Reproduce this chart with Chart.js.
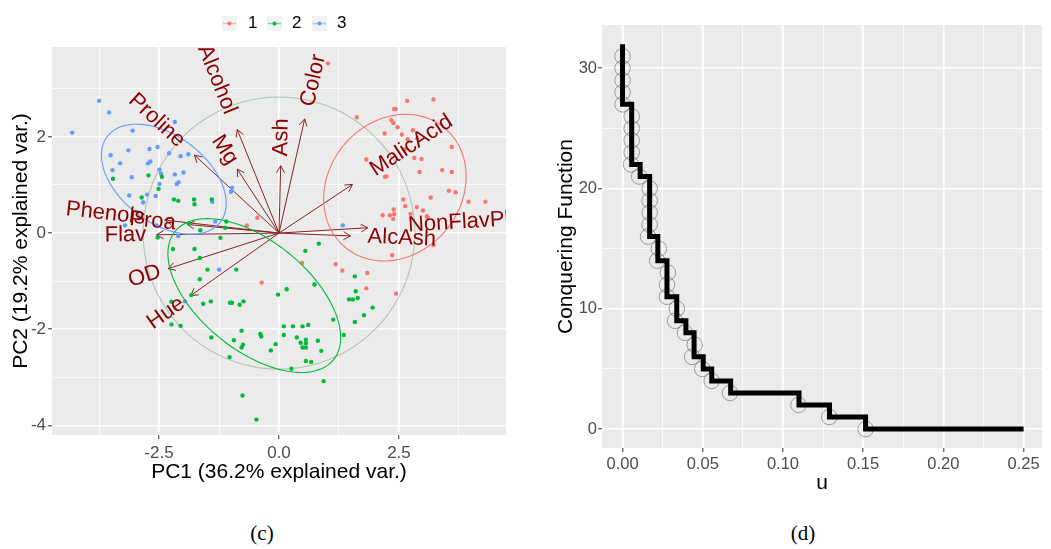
<!DOCTYPE html>
<html><head><meta charset="utf-8">
<script src="https://cdn.jsdelivr.net/npm/chart.js@4.4.0/dist/chart.umd.min.js"></script>
<style>
html,body{margin:0;padding:0;background:#fff;width:1051px;height:549px;overflow:hidden;}
#left{position:absolute;left:0;top:0;width:520px;height:500px;}
#right{position:absolute;left:540px;top:0;width:511px;height:500px;}
.cap{position:absolute;top:521px;font-family:"Liberation Serif","DejaVu Serif",serif;font-size:21px;color:#000;transform:translateX(-50%);}
</style></head><body>
<div id="left"><canvas id="c1" width="520" height="500"></canvas></div>
<div id="right"><canvas id="c2" width="511" height="500"></canvas></div>
<div class="cap" style="left:262px">(c)</div>
<div class="cap" style="left:803px">(d)</div>
<script>
// ---------- Panel (c): PCA biplot data ----------
const groupNames = ['1', '2', '3'];
const grp1X = [3.22,2.67,2.40,2.43,1.62,2.34,2.38,2.47,2.20,2.56,2.79,2.68,2.88,3.60,1.82,2.82,2.97,2.62,3.40,3.60,2.93,2.21,2.24,3.54,3.68,3.16,3.95,4.30,2.59,2.63,2.87,3.00,2.74,2.39,2.40,2.38,2.16,2.31,3.08,3.10,3.22,2.36,0.48,1.18,1.32,1.84,2.44,1.82,-0.45,-0.67,-0.36,1.02];
const grp1Y = [2.78,2.75,2.58,2.58,2.41,2.35,2.29,2.20,2.07,2.05,2.14,1.95,1.97,1.79,1.53,1.56,1.54,1.74,1.31,1.27,1.27,1.17,1.18,0.88,0.85,0.74,0.65,0.65,0.70,0.56,0.54,0.47,0.40,0.49,0.39,0.29,0.37,0.37,0.35,0.32,-0.25,-0.46,-0.62,-0.65,-0.78,-0.83,-1.26,-1.15,0.32,0.16,-1.03,3.53];
const grp2X = [-3.46,-2.72,-2.44,-2.51,-2.86,-2.19,-2.10,-1.77,-1.76,-1.40,-1.88,-1.10,-1.12,-1.64,-2.53,-1.22,-2.21,-1.76,-1.65,
  0.83,0.55,-1.49,-0.89,-1.65,-2.24,-1.83,-1.58,-1.42,-1.02,-0.98,-0.82,-0.74,-2.24,-2.05,-1.41,-0.78,-0.94,-0.75,-0.78,-1.03,-0.39,-0.37,-0.17,-0.07,-0.02,0.16,0.10,0.29,0.49,0.61,0.10,0.37,0.45,0.56,0.56,0.49,0.56,0.81,0.88,0.56,0.67,0.26,0.93,-0.76,-0.47,0.74,1.13,1.35,1.58,1.60,1.46,1.54,1.64,1.95,1.77,1.58];
const grp2Y = [1.13,1.20,1.17,0.92,0.74,0.70,0.67,0.70,0.60,0.70,0.20,0.24,0.11,0.06,-0.09,-0.10,-0.33,-0.33,-0.52,
  -0.22,-0.37,-0.76,-0.76,-0.96,-1.43,-1.29,-1.47,-1.42,-1.45,-1.45,-1.49,-1.42,-1.90,-1.93,-2.17,-2.03,-2.23,-2.32,-2.38,-2.58,-2.10,-2.15,-2.44,-2.31,-1.28,-1.17,-1.94,-1.94,-1.94,-1.91,-2.12,-2.17,-2.28,-2.22,-2.29,-2.38,-2.38,-2.24,-2.45,-2.66,-2.68,-2.82,-3.08,-3.38,-3.88,-1.07,-1.80,-2.12,-0.90,-1.21,-1.38,-1.38,-1.35,-1.55,-1.71,-1.85];
const grp3X = [-3.75,-3.54,-4.31,-2.17,-3.05,-3.51,-3.14,-2.70,-2.53,-3.31,-2.73,-2.68,-2.29,-2.05,-1.89,-3.47,-3.07,-2.49,-2.46,-2.17,-1.99,-2.49,-2.13,-2.09,-0.98,-1.00,-3.12,-2.75,-2.57,-2.83,-1.39,-3.21,-2.55,-1.33,-2.10,-1.25,-1.96,1.33];
const grp3Y = [2.75,2.51,2.09,2.31,2.13,1.62,1.72,1.75,1.79,1.45,1.45,1.49,1.66,1.60,1.64,1.31,1.16,1.32,1.24,1.22,1.26,1.02,1.02,1.06,0.94,0.86,0.78,0.80,0.77,0.64,0.65,0.16,0.16,0.24,-0.06,-0.76,-1.42,0.16];

// variable loadings (arrow tips)
const varNames = ['Alcohol','MalicAcid','Ash','AlcAsh','Mg','Phenols','Flav','NonFlavPhenols','Proa','Color','Hue','OD','Proline'];
const varX = [-0.87, 1.53, 0.035, 1.49, -0.87, -2.38, -2.55, 1.85, -1.91, 0.535, -1.84, -2.31, -1.76];
const varY = [2.15, 1.01, 1.40, -0.06, 1.33, 0.27, -0.035, 0.11, 0.18, 2.375, -1.30, -0.74, 1.62];

// concentration ellipses: centre, x/y half extents, correlation
const ellCX = [2.415, -0.515, -2.40];
const ellCY = [0.945, -1.30, 1.12];
const ellSX = [1.485, 1.80, 1.30];
const ellSY = [1.525, 1.60, 1.145];
const ellR  = [0.152, -0.545, -0.437];
const circleRadius = 2.83;

const pcaXMajor = [-2.5, 0, 2.5];
const pcaXLabels = ['-2.5', '0.0', '2.5'];
const pcaXMinor = [-3.75, -1.25, 1.25, 3.75];
const pcaYMajor = [-4, -2, 0, 2];
const pcaYLabels = ['-4', '-2', '0', '2'];
const pcaYMinor = [-3, -1, 1, 3];

// ---------- Panel (d): conquering function ----------
const stepU = [0, 0, 0.0057, 0.0110, 0.0169, 0.0220, 0.0277, 0.0338, 0.0395, 0.0446, 0.0503, 0.0556, 0.0674, 0.1100, 0.1290, 0.1515, 0.25];
const stepV = [32, 27, 22, 21, 16, 14, 11, 9, 8, 6, 5, 4, 3, 2, 1, 0, 0];
const ptU = [0,0,0,0,0, 0.0057,0.0057,0.0057,0.0057,0.0053, 0.0104, 0.0169,0.0169,0.0169,0.0169,0.0159, 0.0226,0.0216, 0.0283,0.0277,0.0277, 0.0338,0.0328, 0.0389, 0.0450,0.0434, 0.0497, 0.0556, 0.0670, 0.1097, 0.1289, 0.1515];
const ptV = [31,30,29,28,27, 26,25,24,23,22, 21, 20,19,18,17,16, 15,14, 13,12,11, 10,9, 8, 7,6, 5, 4, 3, 2, 1, 0];
const cfXMajor = [0, 0.05, 0.10, 0.15, 0.20, 0.25];
const cfXLabels = ['0.00', '0.05', '0.10', '0.15', '0.20', '0.25'];
const cfXMinor = [0.025, 0.075, 0.125, 0.175, 0.225];
const cfYMajor = [0, 10, 20, 30];
const cfYLabels = ['0', '10', '20', '30'];
const cfYMinor = [5, 15, 25];

// ---------- styling ----------
const FONT = '"Liberation Sans", Arial, Helvetica, sans-serif';
const groupColors = ['#F8766D', '#00BA38', '#619CFF'];
const groupPale = ['rgba(248,118,109,0.45)', 'rgba(0,186,56,0.45)', 'rgba(97,156,255,0.45)'];

function isIn(v, arr) { return arr.some(m => Math.abs(m - v) < 1e-9); }
function labelFor(v, major, labels) {
  const i = major.findIndex(m => Math.abs(m - v) < 1e-9);
  return i >= 0 ? labels[i] : '';
}
function makeAxis(opts) {
  const all = opts.major.concat(opts.minor).sort((a, b) => a - b);
  return {
    type: 'linear', min: opts.min, max: opts.max,
    afterBuildTicks: ax => { ax.ticks = all.map(v => ({ value: v })); },
    afterFit: ax => { if (opts.horizontal) ax.height = opts.size; else ax.width = opts.size; },
    ticks: {
      autoSkip: false, maxRotation: 0, minRotation: 0, padding: opts.pad,
      color: '#4D4D4D', font: { family: FONT, size: opts.tickSize },
      callback: v => labelFor(v, opts.major, opts.labels)
    },
    grid: {
      color: '#FFFFFF',
      lineWidth: c => (c.tick && isIn(c.tick.value, opts.major)) ? 1.6 : 0.8,
      tickColor: c => (c.tick && isIn(c.tick.value, opts.major)) ? '#333333' : 'rgba(0,0,0,0)',
      tickLength: 4, tickWidth: 1, drawTicks: true
    },
    border: { display: false },
    title: { display: true, text: opts.title, color: '#000', font: { family: FONT, size: 21 }, padding: opts.titlePad }
  };
}

const panelBg = {
  id: 'panelBg',
  beforeDraw(chart) {
    const { ctx, chartArea: a } = chart;
    ctx.save(); ctx.fillStyle = '#EBEBEB';
    ctx.fillRect(a.left, a.top, a.right - a.left, a.bottom - a.top);
    ctx.restore();
  }
};

function drawEllipse(ctx, xs, ys, cx, cy, sx, sy, r) {
  const k = Math.sqrt(1 - r * r);
  ctx.beginPath();
  for (let i = 0; i <= 120; i++) {
    const t = i / 120 * 2 * Math.PI;
    const px = xs.getPixelForValue(cx + sx * Math.cos(t));
    const py = ys.getPixelForValue(cy + sy * (r * Math.cos(t) + k * Math.sin(t)));
    if (i === 0) ctx.moveTo(px, py); else ctx.lineTo(px, py);
  }
  ctx.stroke();
}
function clipArea(ctx, a) { ctx.beginPath(); ctx.rect(a.left, a.top, a.right - a.left, a.bottom - a.top); ctx.clip(); }

const biplotLayers = {
  id: 'biplotLayers',
  beforeDatasetsDraw(chart) {
    const { ctx, chartArea: a, scales: { x, y } } = chart;
    ctx.save(); clipArea(ctx, a);
    // correlation circle
    ctx.strokeStyle = 'rgba(70,130,70,0.35)'; ctx.lineWidth = 1.1;
    drawEllipse(ctx, x, y, 0, 0, circleRadius, circleRadius, 0);
    // arrows
    ctx.strokeStyle = '#832424'; ctx.lineWidth = 1;
    const x0 = x.getPixelForValue(0), y0 = y.getPixelForValue(0);
    varNames.forEach((n, i) => {
      const x1 = x.getPixelForValue(varX[i]), y1 = y.getPixelForValue(varY[i]);
      ctx.beginPath(); ctx.moveTo(x0, y0); ctx.lineTo(x1, y1); ctx.stroke();
      const ang = Math.atan2(y1 - y0, x1 - x0), L = 8, h = Math.PI / 6;
      ctx.beginPath();
      ctx.moveTo(x1 - L * Math.cos(ang - h), y1 - L * Math.sin(ang - h));
      ctx.lineTo(x1, y1);
      ctx.lineTo(x1 - L * Math.cos(ang + h), y1 - L * Math.sin(ang + h));
      ctx.stroke();
    });
    ctx.restore();
  },
  afterDatasetsDraw(chart) {
    const { ctx, chartArea: a, scales: { x, y } } = chart;
    ctx.save(); clipArea(ctx, a);
    ctx.lineWidth = 1.1;
    for (let g = 0; g < 3; g++) {
      ctx.strokeStyle = groupColors[g];
      drawEllipse(ctx, x, y, ellCX[g], ellCY[g], ellSX[g], ellSY[g], ellR[g]);
    }
    // variable labels
    ctx.fillStyle = '#8B0000';
    ctx.font = '22px ' + FONT;
    ctx.textBaseline = 'middle'; ctx.textAlign = 'left';
    varNames.forEach((n, i) => {
      const px = x.getPixelForValue(varX[i]), py = y.getPixelForValue(varY[i]);
      const angle = Math.atan(varY[i] / varX[i]);
      const hjust = (1 - 1.5 * Math.sign(varX[i])) / 2;
      const w = ctx.measureText(n).width;
      ctx.save(); ctx.translate(px, py); ctx.rotate(-angle);
      ctx.fillText(n, -hjust * w, 0);
      ctx.restore();
    });
    ctx.restore();
  },
  afterDraw(chart) {
    const ctx = chart.ctx;
    const keyX = [222, 267, 312], labX = [248, 292, 337];
    ctx.save();
    for (let g = 0; g < 3; g++) {
      ctx.fillStyle = '#F2F2F2';
      ctx.fillRect(keyX[g], 16, 15, 15);
      ctx.strokeStyle = groupPale[g]; ctx.lineWidth = 1.5;
      ctx.beginPath(); ctx.moveTo(keyX[g] + 1, 23.5); ctx.lineTo(keyX[g] + 14, 23.5); ctx.stroke();
      ctx.fillStyle = groupColors[g];
      ctx.beginPath(); ctx.arc(keyX[g] + 7.5, 23.5, 2, 0, 2 * Math.PI); ctx.fill();
      ctx.fillStyle = '#000'; ctx.font = '17px ' + FONT;
      ctx.textBaseline = 'middle'; ctx.textAlign = 'left';
      ctx.fillText(groupNames[g], labX[g], 23);
    }
    ctx.restore();
  }
};

const pts = (xs, ys) => xs.map((v, i) => ({ x: v, y: ys[i] }));

new Chart(document.getElementById('c1'), {
  type: 'scatter',
  data: {
    datasets: [0, 1, 2].map(g => ({
      label: groupNames[g],
      data: pts([grp1X, grp2X, grp3X][g], [grp1Y, grp2Y, grp3Y][g]),
      pointRadius: 2.2, pointBorderWidth: 0,
      pointBackgroundColor: groupColors[g], borderColor: groupColors[g], backgroundColor: groupColors[g]
    }))
  },
  options: {
    responsive: false, animation: false,
    layout: { padding: { top: 47, right: 14, left: 0, bottom: 0 } },
    plugins: { legend: { display: false }, tooltip: { enabled: false } },
    scales: {
      x: makeAxis({ min: -4.73, max: 4.73, major: pcaXMajor, minor: pcaXMinor, labels: pcaXLabels, horizontal: true, size: 65, pad: 4, tickSize: 17, title: 'PC1 (36.2% explained var.)', titlePad: { top: 0, bottom: 15 } }),
      y: makeAxis({ min: -4.2, max: 3.87, major: pcaYMajor, minor: pcaYMinor, labels: pcaYLabels, horizontal: false, size: 52, pad: 2, tickSize: 17, title: 'PC2 (19.2% explained var.)', titlePad: { top: 9, bottom: 0 } })
    }
  },
  plugins: [panelBg, biplotLayers]
});

new Chart(document.getElementById('c2'), {
  type: 'scatter',
  data: {
    datasets: [
      { label: 'step', data: pts(stepU, stepV), showLine: true, stepped: true, borderColor: '#000', borderWidth: 5,
        borderJoinStyle: 'miter', borderCapStyle: 'butt', pointRadius: 0, fill: false },
      { label: 'points', data: pts(ptU, ptV), showLine: false, pointRadius: 7.8, pointBorderWidth: 1,
        pointBorderColor: 'rgba(60,60,60,0.45)', pointBackgroundColor: 'rgba(0,0,0,0)' }
    ]
  },
  options: {
    responsive: false, animation: false,
    layout: { padding: { top: 25, right: 0, left: 0, bottom: 0 } },
    plugins: { legend: { display: false }, tooltip: { enabled: false } },
    scales: {
      x: makeAxis({ min: -0.0128, max: 0.2616, major: cfXMajor, minor: cfXMinor, labels: cfXLabels, horizontal: true, size: 52, pad: 3, tickSize: 16.5, title: 'u', titlePad: { top: 0, bottom: 4 } }),
      y: makeAxis({ min: -1.58, max: 33.6, major: cfYMajor, minor: cfYMinor, labels: cfYLabels, horizontal: false, size: 62, pad: 1, tickSize: 16.5, title: 'Conquering Function', titlePad: { top: 14, bottom: 0 } })
    }
  },
  plugins: [panelBg]
});
</script></body></html>
